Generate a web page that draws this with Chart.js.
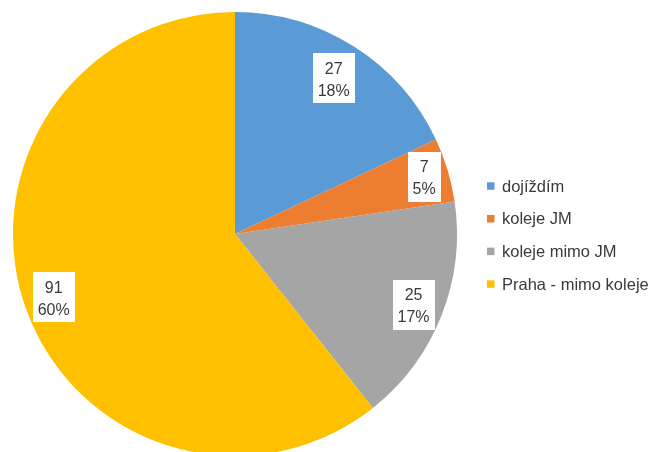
<!DOCTYPE html>
<html>
<head>
<meta charset="utf-8">
<script src="https://cdn.jsdelivr.net/npm/chart.js@4/dist/chart.umd.min.js"></script>
<style>
  html, body { margin: 0; padding: 0; background: #fff; overflow: hidden; }
  #wrap { width: 650px; height: 452px; overflow: hidden; position: relative; }
  canvas { display: block; }
</style>
</head>
<body>
<div id="wrap"><canvas id="c" width="650" height="470"></canvas></div>
<script>
const categories = ['dojíždím', 'koleje JM', 'koleje mimo JM', 'Praha - mimo koleje'];
const values = [27, 7, 25, 91];
const percentLabels = ['18%', '5%', '17%', '60%'];
const colors = ['#5B9BD5', '#ED7D31', '#A5A5A5', '#FFC000'];
const labelRadiusFactor = [0.83, 0.89, 0.865, 0.865];

const FONT = '16px "Liberation Sans", Arial, sans-serif';
const LEGEND_FONT = '16.5px "Liberation Sans", Arial, sans-serif';
const TEXT = '#3a3a3a';

const labelPlugin = {
  id: 'boxLabels',
  afterDatasetsDraw(chart) {
    const ctx = chart.ctx;
    const meta = chart.getDatasetMeta(0);
    ctx.save();
    ctx.font = FONT;
    ctx.textAlign = 'center';
    ctx.textBaseline = 'middle';
    meta.data.forEach((arc, i) => {
      const p = arc.getProps(['x', 'y', 'startAngle', 'endAngle', 'outerRadius'], true);
      const mid = (p.startAngle + p.endAngle) / 2;
      const r = p.outerRadius * labelRadiusFactor[i];
      const cx = p.x + Math.cos(mid) * r;
      const cy = p.y + Math.sin(mid) * r;
      const l1 = String(values[i]);
      const l2 = percentLabels[i];
      const w = Math.max(ctx.measureText(l1).width, ctx.measureText(l2).width) + 10;
      const h = 50;
      ctx.fillStyle = '#fff';
      ctx.fillRect(Math.round(cx - w / 2), Math.round(cy - h / 2), Math.round(w), h);
      ctx.fillStyle = TEXT;
      ctx.fillText(l1, cx, cy - 9);
      ctx.fillText(l2, cx, cy + 13);
    });
    ctx.restore();
  }
};

const legendPlugin = {
  id: 'sideLegend',
  afterDraw(chart) {
    const ctx = chart.ctx;
    const labels = chart.data.labels;
    const bg = chart.data.datasets[0].backgroundColor;
    ctx.save();
    ctx.font = LEGEND_FONT;
    ctx.textAlign = 'left';
    ctx.textBaseline = 'middle';
    const x0 = 487, y0 = 186, step = 32.7, sq = 7.5;
    labels.forEach((lab, i) => {
      const y = y0 + i * step;
      ctx.fillStyle = bg[i];
      ctx.fillRect(x0, y - sq / 2, sq, sq);
      ctx.fillStyle = TEXT;
      ctx.fillText(lab, x0 + 15, y + 1);
    });
    ctx.restore();
  }
};

new Chart(document.getElementById('c'), {
  type: 'pie',
  data: {
    labels: categories,
    datasets: [{
      data: values,
      backgroundColor: colors,
      borderWidth: 0,
      hoverOffset: 0,
      offset: 0
    }]
  },
  options: {
    responsive: false,
    animation: false,
    events: [],
    layout: { padding: { left: 13, top: 12, right: 193, bottom: 14 } },
    plugins: {
      legend: { display: false },
      tooltip: { enabled: false }
    }
  },
  plugins: [labelPlugin, legendPlugin]
});
</script>
</body>
</html>
